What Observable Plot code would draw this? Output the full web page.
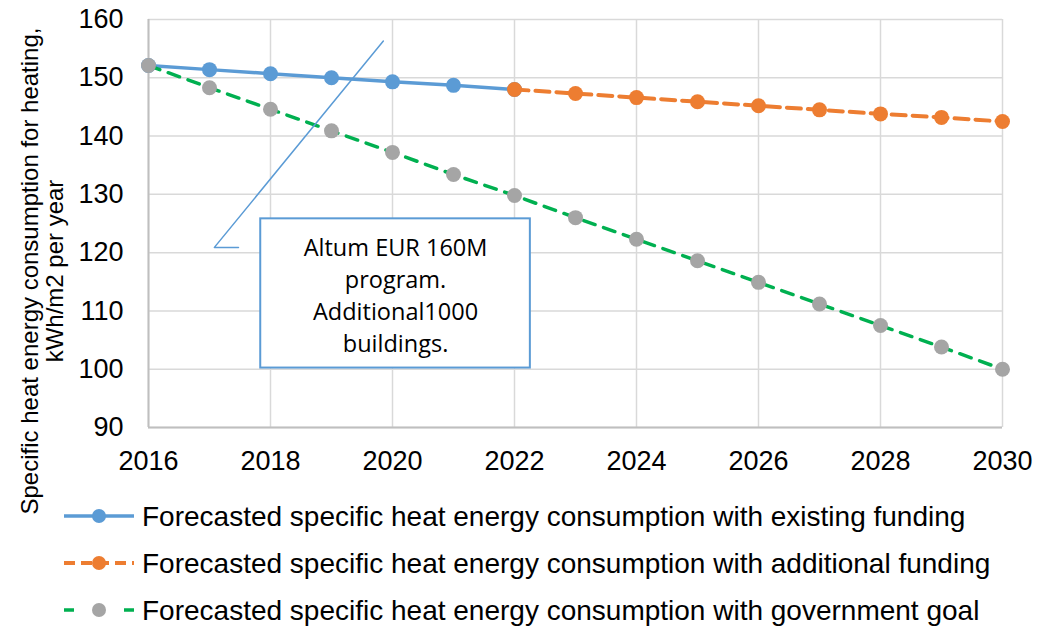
<!DOCTYPE html>
<html>
<head>
<meta charset="utf-8">
<script src="https://cdn.jsdelivr.net/npm/d3@7"></script>
<script src="https://cdn.jsdelivr.net/npm/@observablehq/plot@0.6"></script>
<style>
  html, body { margin: 0; padding: 0; background: #fff; }
  #chart svg { display: block; }
</style>
</head>
<body>
<div id="chart"></div>
<script>
// ---- data ----
const yearsExisting = [2016, 2017, 2018, 2019, 2020, 2021, 2022];
const existing = [152.1, 151.4, 150.7, 150.0, 149.3, 148.7, 148.0];
const yearsAdditional = [2022, 2023, 2024, 2025, 2026, 2027, 2028, 2029, 2030];
const additional = [148.0, 147.3, 146.6, 145.9, 145.2, 144.5, 143.8, 143.2, 142.5];
const yearsGoal = [2016, 2017, 2018, 2019, 2020, 2021, 2022, 2023, 2024, 2025, 2026, 2027, 2028, 2029, 2030];
const goal = [152.1, 148.3, 144.6, 140.9, 137.2, 133.4, 129.8, 126.0, 122.3, 118.6, 114.9, 111.2, 107.5, 103.8, 100.0];
const xTicks = [2016, 2018, 2020, 2022, 2024, 2026, 2028, 2030];
const yTicks = [90, 100, 110, 120, 130, 140, 150, 160];
const seriesNames = [
  "Forecasted specific heat energy consumption with existing funding",
  "Forecasted specific heat energy consumption with additional funding",
  "Forecasted specific heat energy consumption with government goal"
];
const yTitle = ["Specific heat energy consumption for heating,", "kWh/m2 per year"];
const calloutText = "Altum EUR 160M\nprogram.\nAdditional1000\nbuildings.";
const calloutBox = [{x1: 2017.84, x2: 2022.26, y1: 100.2, y2: 125.8}];
const calloutLeader = [{x: 2017.475, y: 120.9}, {x: 2017.08, y: 120.9}, {x: 2019.85, y: 156.3}];

const blue = "#5b9bd5", orange = "#ed7d31", green = "#00b050", gray = "#a5a5a5";

const dExisting = yearsExisting.map((x, i) => ({x, y: existing[i]}));
const dAdditional = yearsAdditional.map((x, i) => ({x, y: additional[i]}));
const dGoal = yearsGoal.map((x, i) => ({x, y: goal[i]}));

const W = 1048, H = 627;
const chart = Plot.plot({
  width: W, height: H,
  marginLeft: 148, marginRight: 46, marginTop: 19, marginBottom: 200,
  style: {fontFamily: "'Liberation Sans', Arial, sans-serif", fontSize: "27px", background: "#fff", color: "#000"},
  x: {domain: [2016, 2030], label: null},
  y: {domain: [90, 160], label: null},
  marks: [
    Plot.gridX(xTicks, {stroke: "#d9d9d9", strokeOpacity: 1, strokeWidth: 1.5}),
    Plot.gridY(yTicks, {stroke: "#d9d9d9", strokeOpacity: 1, strokeWidth: 1.5}),
    Plot.ruleX([2016], {stroke: "#bfbfbf", strokeWidth: 2}),
    Plot.ruleY([90], {stroke: "#bfbfbf", strokeWidth: 2}),
    Plot.axisX({ticks: xTicks, tickFormat: d => String(d), tickSize: 0, tickPadding: 23, fontSize: 27}),
    Plot.axisY({ticks: yTicks, tickSize: 0, tickPadding: 25, fontSize: 27}),
    Plot.rect(calloutBox, {x1: "x1", x2: "x2", y1: "y1", y2: "y2", fill: "#fff", stroke: blue, strokeWidth: 2}),
    Plot.text([calloutText], {x: (calloutBox[0].x1 + calloutBox[0].x2) / 2, y: (calloutBox[0].y1 + calloutBox[0].y2) / 2,
      text: d => d, fontSize: 23.5, lineHeight: 1.36, fontFamily: "'Open Sans', sans-serif", fill: "#000"}),
    Plot.line(dExisting, {x: "x", y: "y", stroke: blue, strokeWidth: 3.5}),
    Plot.dot(dExisting, {x: "x", y: "y", r: 7.5, fill: blue}),
    Plot.line(dAdditional, {x: "x", y: "y", stroke: orange, strokeWidth: 4, strokeDasharray: "14,7"}),
    Plot.dot(dAdditional, {x: "x", y: "y", r: 7.5, fill: orange}),
    Plot.line(dGoal, {x: "x", y: "y", stroke: green, strokeWidth: 3.5, strokeDasharray: "12,9"}),
    Plot.dot(dGoal, {x: "x", y: "y", r: 7.5, fill: gray}),
    Plot.line(calloutLeader, {x: "x", y: "y", stroke: blue, strokeWidth: 1.5, curve: "linear"})
  ]
});

const svg = d3.select(chart);
// y title
const yt = svg.append("g").attr("font-family", "'Liberation Sans', Arial, sans-serif").attr("font-size", 24).attr("fill", "#000");
yt.append("text").attr("transform", "translate(38,271) rotate(-90)").attr("text-anchor", "middle").text(yTitle[0]);
yt.append("text").attr("transform", "translate(63,271) rotate(-90)").attr("text-anchor", "middle").text(yTitle[1]);

// legend
const lg = svg.append("g").attr("font-family", "'Liberation Sans', Arial, sans-serif").attr("font-size", 28).attr("text-anchor", "start");
const legendRows = [
  {name: seriesNames[0], line: blue, dot: blue, dash: null, w: 3.5},
  {name: seriesNames[1], line: orange, dot: orange, dash: "11,6", w: 4},
  {name: seriesNames[2], line: green, dot: gray, dash: "10,50", w: 3.5}
];
legendRows.forEach((r, i) => {
  const cy = 516 + i * 47;
  const g = lg.append("g");
  g.append("line").attr("x1", 64).attr("x2", 134).attr("y1", cy).attr("y2", cy)
    .attr("stroke", r.line).attr("stroke-width", r.w).attr("stroke-dasharray", r.dash);
  g.append("circle").attr("cx", 99).attr("cy", cy).attr("r", 7).attr("fill", r.dot);
  g.append("text").attr("x", 142).attr("y", cy + 9.5).attr("text-anchor", "start").attr("fill", "#000").text(r.name);
});

document.getElementById("chart").appendChild(chart);
</script>
</body>
</html>
